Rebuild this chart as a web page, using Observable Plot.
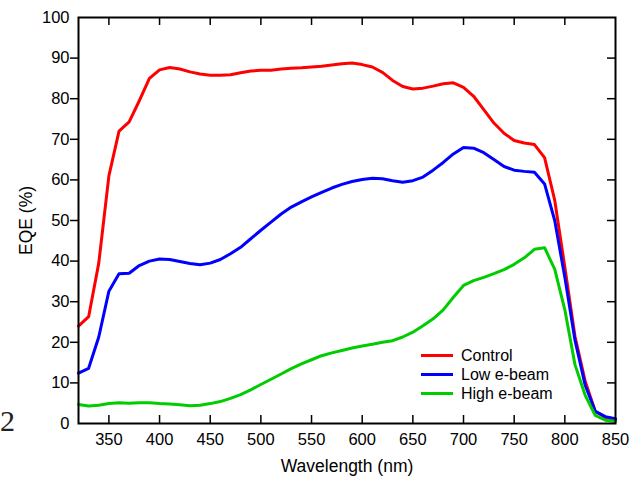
<!DOCTYPE html>
<html>
<head>
<meta charset="utf-8">
<script src="https://cdn.jsdelivr.net/npm/d3@7"></script>
<script src="https://cdn.jsdelivr.net/npm/@observablehq/plot@0.6"></script>
<style>
  html, body { margin: 0; padding: 0; background: #fff; }
  #wrap { position: relative; width: 631px; height: 478px; overflow: hidden; font-family: "Liberation Sans", Arial, sans-serif; }
  #legend { position: absolute; left: 421px; top: 346px; font-size: 16px; color: #000; }
  #legend .row { display: flex; align-items: center; height: 19px; }
  #legend .sw { display: inline-block; width: 32px; height: 3px; margin-right: 8px; }
  #stray { position: absolute; left: 0px; top: 404px; font-family: "Liberation Serif", "Times New Roman", serif; font-size: 30px; color: #222; }
</style>
</head>
<body>
<div id="wrap">
  <div id="chart"></div>
  <div id="stray">2</div>
  <div id="legend"></div>
</div>
<script>
const wavelength = [320,330,340,350,360,370,380,390,400,410,420,430,440,450,460,470,480,490,500,510,520,530,540,550,560,570,580,590,600,610,620,630,640,650,660,670,680,690,700,710,720,730,740,750,760,770,780,790,800,810,820,830,840,850];

const control = [24.0,26.3,39.5,61.0,72.0,74.3,79.5,85.0,87.1,87.7,87.3,86.6,86.1,85.8,85.8,85.9,86.4,86.8,87.0,87.0,87.3,87.5,87.6,87.8,88.0,88.3,88.6,88.8,88.4,87.8,86.5,84.5,83.0,82.4,82.6,83.1,83.7,83.9,82.8,80.6,77.3,74.0,71.5,69.7,69.1,68.7,65.5,55.0,38.5,21.5,10.5,3.0,1.5,1.0];

const lowEbeam = [12.4,13.6,21.3,32.6,36.9,37.0,38.9,40.0,40.5,40.4,39.9,39.4,39.1,39.5,40.4,41.8,43.4,45.5,47.6,49.6,51.6,53.3,54.6,55.8,56.9,58.0,58.9,59.6,60.1,60.4,60.3,59.8,59.4,59.8,60.7,62.4,64.3,66.4,68.0,67.8,66.7,65.0,63.3,62.4,62.1,61.9,59.0,50.0,36.0,20.5,9.5,3.0,1.7,1.2];

const highEbeam = [4.7,4.3,4.5,4.9,5.1,5.0,5.1,5.1,4.9,4.8,4.6,4.4,4.5,4.9,5.4,6.2,7.1,8.3,9.6,10.9,12.2,13.5,14.7,15.7,16.7,17.4,18.0,18.6,19.1,19.5,20.0,20.4,21.3,22.5,24.1,25.8,28.0,31.1,34.0,35.2,36.0,36.9,37.9,39.2,40.8,42.9,43.3,38.0,28.0,14.5,7.0,2.0,0.8,0.5];

const seriesNames = ["Control", "Low e-beam", "High e-beam"];
const seriesColors = ["#ff0000", "#0000ff", "#00cc00"];

const xTickLabels = [350,400,450,500,550,600,650,700,750,800,850];
const xTickMarks = [350,400,450,500,550,600,650,700,750,800];
const yTickLabels = [0,10,20,30,40,50,60,70,80,90,100];
const yTickMarks = [10,20,30,40,50,60,70,80,90];

const xLabel = "Wavelength (nm)";
const yLabel = "EQE (%)";

const W = 631, H = 478;
const mL = 78, mR = 16, mT = 17, mB = 55;
const plotW = W - mL - mR, plotH = H - mT - mB;

const rows = [];
[control, lowEbeam, highEbeam].forEach((vals, i) => {
  vals.forEach((v, j) => rows.push({series: seriesNames[i], wl: wavelength[j], eqe: v}));
});

const chart = Plot.plot({
  width: W,
  height: H,
  marginLeft: mL,
  marginRight: mR,
  marginTop: mT,
  marginBottom: mB,
  style: {fontFamily: "'Liberation Sans', Arial, sans-serif", fontSize: "16.5px", color: "#000", background: "#fff", overflow: "visible"},
  x: {domain: [320, 850]},
  y: {domain: [0, 100]},
  color: {domain: seriesNames, range: seriesColors},
  marks: [
    Plot.line(rows, {x: "wl", y: "eqe", z: "series", stroke: "series", strokeWidth: 3, strokeLinejoin: "round"}),
    Plot.frame({stroke: "#000", strokeWidth: 2}),
    Plot.axisX({ticks: xTickLabels, tickSize: 0, tickPadding: 10, label: null}),
    Plot.axisY({ticks: yTickLabels, tickSize: 0, tickPadding: 9, label: null}),
    Plot.tickX(xTickMarks, {x: d => d, insetTop: plotH - 8, stroke: "#000", strokeWidth: 1.5}),
    Plot.tickX(xTickMarks, {x: d => d, insetBottom: plotH - 8, stroke: "#000", strokeWidth: 1.5}),
    Plot.tickY(yTickMarks, {y: d => d, insetLeft: -8, insetRight: plotW, stroke: "#000", strokeWidth: 1.5}),
    Plot.tickY(yTickMarks, {y: d => d, insetLeft: plotW - 8, stroke: "#000", strokeWidth: 1.5}),
    Plot.text([xLabel], {text: d => d, frameAnchor: "bottom", dy: 43, lineAnchor: "middle", fontSize: 17.5}),
    Plot.text([yLabel], {text: d => d, frameAnchor: "left", dx: -52, rotate: -90, lineAnchor: "middle", textAnchor: "middle", fontSize: 17.5})
  ]
});
document.getElementById("chart").appendChild(chart);

const legend = document.getElementById("legend");
seriesNames.forEach((name, i) => {
  const row = document.createElement("div");
  row.className = "row";
  const sw = document.createElement("span");
  sw.className = "sw";
  sw.style.background = seriesColors[i];
  const t = document.createElement("span");
  t.textContent = name;
  row.appendChild(sw);
  row.appendChild(t);
  legend.appendChild(row);
});
</script>
</body>
</html>
